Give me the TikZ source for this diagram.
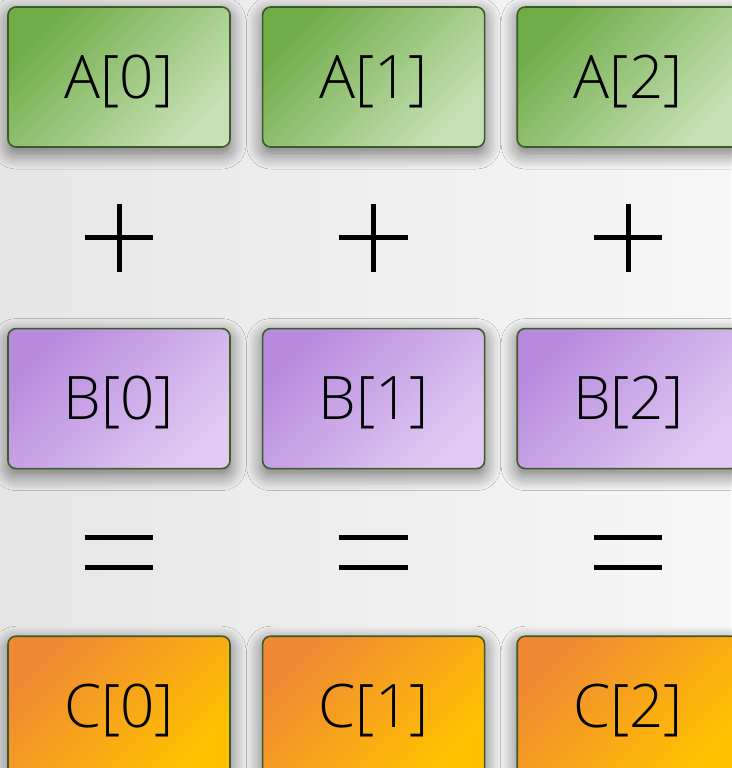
\documentclass[tikz,border=0pt]{standalone}
\usepackage{fontspec}
\setmainfont{Open Sans}[UprightFont = * Light]
\usetikzlibrary{positioning, calc, shadows.blur}
\definecolor{myborder}{RGB}{62,90,38}
\definecolor{greendark}{RGB}{112,172,72}
\definecolor{greenlight}{RGB}{198,225,182}
\definecolor{purpledark}{RGB}{184,138,222}
\definecolor{purplelight}{RGB}{225,202,242}
\definecolor{orangedark}{RGB}{240,136,52}
\definecolor{orangelight}{RGB}{255,194,0}
\definecolor{bgleft}{RGB}{230,230,230}
\definecolor{bgright}{RGB}{247,247,247}
\tikzset{
  cell/.style={rectangle, draw=myborder, line width=1.6pt, rounded corners=8pt,
    minimum width=222pt, minimum height=140pt, inner sep=0pt,
    font=\fontsize{60}{64}\selectfont, text height=52pt,
    blur shadow={shadow xshift=0pt, shadow yshift=-6pt,
      shadow blur radius=16pt, shadow opacity=55, shadow blur steps=12}},
  acell/.style={cell, left color=greendark, right color=greenlight, shading angle=45},
  bcell/.style={cell, left color=purpledark, right color=purplelight, shading angle=45},
  ccell/.style={cell, left color=orangedark, right color=orangelight, shading angle=45},
  opsign/.style={rectangle, inner sep=0pt, minimum width=68pt, minimum height=68pt},
  eqsign/.style={rectangle, inner sep=0pt, minimum width=68pt, minimum height=29pt},
  opline/.style={line width=5pt, color=black}
}
\begin{document}
\begin{tikzpicture}[x=1pt, y=-1pt]
  \fill[left color=bgleft, right color=bgright] (0,0) rectangle (731,768);
  \useasboundingbox (0,0) rectangle (731,768);

  % first row
  \node[acell] (a0) at (119,77) {A[0]};
  \node[acell, right=31pt of a0] (a1) {A[1]};
  \node[acell, right=31pt of a1] (a2) {A[2]};

  % second row
  \node[bcell, below=180pt of a0] (b0) {B[0]};
  \node[bcell, right=31pt of b0] (b1) {B[1]};
  \node[bcell, right=31pt of b1] (b2) {B[2]};

  % result row
  \node[ccell, below=166pt of b0] (c0) {C[0]};
  \node[ccell, right=31pt of c0] (c1) {C[1]};
  \node[ccell, right=31pt of c1] (c2) {C[2]};

  % operators
  \foreach \i in {0,1,2} {
    \node[opsign] (p\i) at ($(a\i)!0.5!(b\i)$) {};
    \draw[opline] (p\i.north) -- (p\i.south) (p\i.west) -- (p\i.east);
    \node[eqsign] (e\i) at ($(b\i)!0.5!(c\i)$) {};
    \draw[opline] (e\i.north west) -- (e\i.north east)
      (e\i.south west) -- (e\i.south east);
  }
\end{tikzpicture}
\end{document}
